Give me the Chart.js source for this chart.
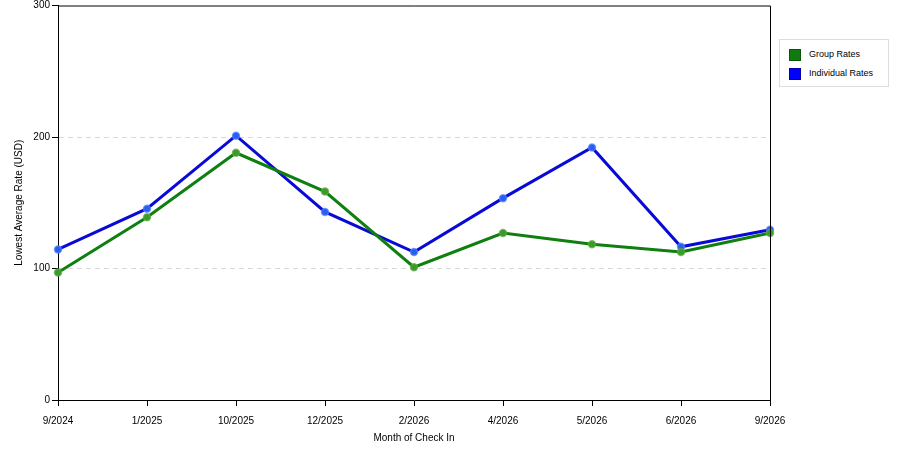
<!DOCTYPE html>
<html><head><meta charset="utf-8">
<script src="https://cdn.jsdelivr.net/npm/chart.js@4"></script>
<style>
html,body{margin:0;padding:0;background:#fff;}
#wrap{position:relative;width:900px;height:450px;}
#legend{position:absolute;left:779px;top:39px;width:110px;height:48px;border:1px solid #ddd;background:#fff;font:9px "Liberation Sans",Arial,sans-serif;color:#000;box-sizing:border-box;}
.li{position:absolute;left:9px;height:12px;line-height:12px;}
.sw{display:inline-block;width:12px;height:12px;vertical-align:middle;margin-right:8px;box-sizing:border-box;border:1px solid rgba(0,0,0,0.3);}
</style></head>
<body><div id="wrap"><canvas id="c" width="900" height="450"></canvas>
<div id="legend"></div></div>
<script>
const categories = ["9/2024","1/2025","10/2025","12/2025","2/2026","4/2026","5/2026","6/2026","9/2026"];
const groupRates = [97, 139, 188, 158.5, 101, 127, 118.5, 112.5, 127];
const individualRates = [114.5, 145.5, 201, 143, 112.5, 153.5, 192, 116.5, 129.5];
const yTicks = [0, 100, 200, 300];
const seriesNames = ["Group Rates", "Individual Rates"];
const seriesColors = ["#0f7f0f", "#0a0ad6"];
const pointColors = ["#3c9a2c", "#2a5ef0"];
const swatchColors = ["#107a10", "#0000ff"];

const leg = document.getElementById('legend');
seriesNames.forEach((n,i)=>{
  const d=document.createElement('div');d.className='li';d.style.top=(8+i*19)+'px';
  d.innerHTML='<span class="sw" style="background:'+swatchColors[i]+'"></span>'+n;
  leg.appendChild(d);
});

const boxPlugin = {
  id:'box',
  afterDraw(chart){
    const a=chart.chartArea, ctx=chart.ctx;
    ctx.save();ctx.strokeStyle='#000';ctx.lineWidth=1;
    ctx.beginPath();
    ctx.moveTo(a.left, a.top+0.5);ctx.lineTo(a.right+0.5, a.top+0.5);ctx.lineTo(a.right+0.5, a.bottom);
    ctx.stroke();ctx.restore();
  }
};

const font = {family:'"Liberation Sans", Arial, sans-serif', size:10};
new Chart(document.getElementById('c'), {
  type:'line',
  data:{labels:categories, datasets:[
    {label:seriesNames[0], data:groupRates, borderColor:seriesColors[0], backgroundColor:pointColors[0], borderWidth:3, pointRadius:3.5, pointBorderWidth:1.5, pointBorderColor:'rgba(90,170,60,0.7)', pointBackgroundColor:pointColors[0], tension:0},
    {label:seriesNames[1], data:individualRates, borderColor:seriesColors[1], backgroundColor:pointColors[1], borderWidth:3, pointRadius:3.5, pointBorderWidth:1.5, pointBorderColor:'rgba(80,130,255,0.7)', pointBackgroundColor:pointColors[1], tension:0}
  ]},
  options:{
    responsive:false, animation:false, devicePixelRatio:1,
    layout:{padding:{left:0,right:130,top:5,bottom:0}},
    plugins:{legend:{display:false}, tooltip:{enabled:false}},
    scales:{
      x:{
        offset:false,
        grid:{display:true, drawOnChartArea:false, tickLength:6, color:'#000', tickColor:'#000'},
        border:{display:true, color:'#000', width:1},
        ticks:{font:font, color:'#000', maxRotation:0, autoSkip:false, padding:9},
        title:{display:true, text:'Month of Check In', font:font, color:'#000', padding:{top:4,bottom:6}},
        afterFit(s){s.height=50;s.paddingLeft=0;s.paddingRight=0;}
      },
      y:{
        min:0, max:300,
        afterBuildTicks(s){s.ticks=yTicks.map(v=>({value:v}));},
        grid:{display:true, drawOnChartArea:true, tickLength:6, color:(c)=>(c.tick&&(c.tick.value===100||c.tick.value===200))?'#d8d8d8':'rgba(0,0,0,0)', tickColor:'#000', lineWidth:1},
        border:{display:true, color:'#000', width:1, dash:[5,4]},
        ticks:{font:font, color:'#000', padding:2},
        title:{display:true, text:'Lowest Average Rate (USD)', font:font, color:'#000', padding:{top:13,bottom:4}},
        afterFit(s){s.width=58;s.paddingTop=0;s.paddingBottom=0;}
      }
    }
  },
  plugins:[boxPlugin]
});
</script></body></html>
